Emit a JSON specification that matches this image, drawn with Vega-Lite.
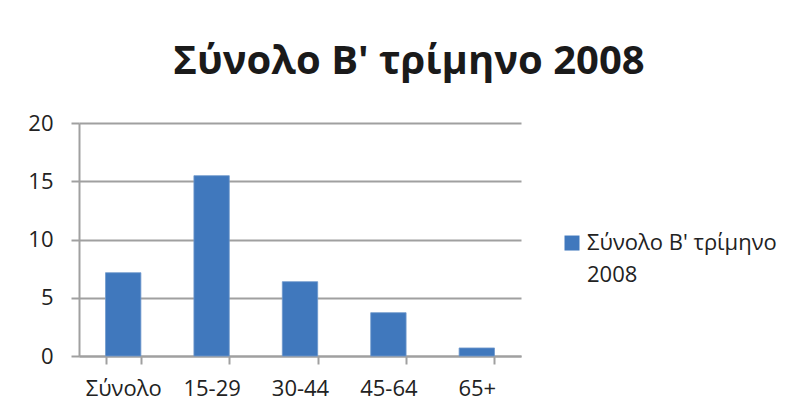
{
  "$schema": "https://vega.github.io/schema/vega-lite/v6.json",
  "width": 442,
  "height": 233,
  "autosize": {"type": "none"},
  "padding": {"left": 79, "top": 123, "right": 280, "bottom": 58},
  "background": "white",
  "title": {
    "text": "Σύνολο Β' τρίμηνο 2008",
    "font": "Open Sans",
    "fontSize": 40,
    "fontWeight": "bold",
    "color": "#1a1a1a",
    "anchor": "middle",
    "dx": 109,
    "offset": 30
  },
  "data": {
    "values": [
      {"group": "Σύνολο", "value": 7.15, "series": "Σύνολο Β' τρίμηνο 2008"},
      {"group": "15-29", "value": 15.48, "series": "Σύνολο Β' τρίμηνο 2008"},
      {"group": "30-44", "value": 6.38, "series": "Σύνολο Β' τρίμηνο 2008"},
      {"group": "45-64", "value": 3.72, "series": "Σύνολο Β' τρίμηνο 2008"},
      {"group": "65+", "value": 0.69, "series": "Σύνολο Β' τρίμηνο 2008"}
    ]
  },
  "mark": {"type": "bar", "stroke": "#6f98cc", "strokeWidth": 0.8},
  "encoding": {
    "x": {
      "field": "group",
      "type": "nominal",
      "sort": null,
      "scale": {"paddingInner": 0.6, "paddingOuter": 0.3},
      "axis": {
        "title": null,
        "labelAngle": 0,
        "labelFont": "Open Sans",
        "labelFontSize": 22,
        "labelColor": "#222222",
        "labelPadding": 14,
        "tickBand": "extent",
        "tickSize": 8,
        "tickColor": "#a0a0a0",
        "tickWidth": 2,
        "domainColor": "#a0a0a0",
        "domainWidth": 2,
        "grid": false
      }
    },
    "y": {
      "field": "value",
      "type": "quantitative",
      "scale": {"domain": [0, 20]},
      "axis": {
        "title": null,
        "values": [0, 5, 10, 15, 20],
        "labelFont": "Open Sans",
        "labelFontSize": 22,
        "labelColor": "#222222",
        "labelPadding": 18,
        "tickSize": 8,
        "tickColor": "#a0a0a0",
        "tickWidth": 2,
        "domainColor": "#a0a0a0",
        "domainWidth": 2,
        "grid": true,
        "gridColor": "#a0a0a0",
        "gridWidth": 2
      }
    },
    "color": {
      "field": "series",
      "type": "nominal",
      "scale": {"range": ["#4078bd"]},
      "legend": {
        "title": null,
        "orient": "none",
        "legendX": 482,
        "legendY": 116,
        "padding": 0,
        "symbolType": "M-1,-1.93H1V0.07H-1Z",
        "symbolSize": 225,
        "symbolStrokeWidth": 0,
        "labelFont": "Open Sans",
        "labelFontSize": 22,
        "labelColor": "#222222",
        "labelOffset": 4,
        "labelLimit": 300,
        "labelBaseline": "alphabetic",
        "labelExpr": "[\"Σύνολο Β' τρίμηνο\", \"2008\"]"
      }
    }
  },
  "config": {"view": {"stroke": null}, "style": {"guide-label": {"lineHeight": 32}}}
}
